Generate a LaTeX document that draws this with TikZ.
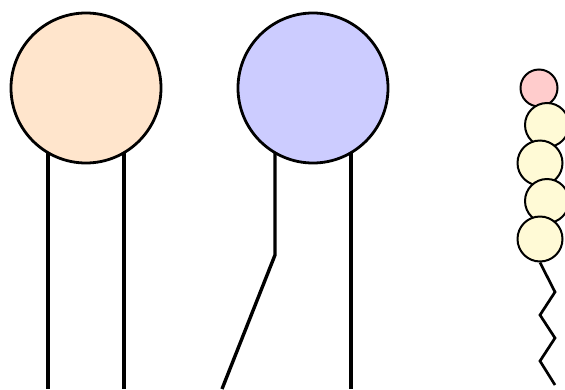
\documentclass[tikz,border=0pt]{standalone}
\definecolor{peach}{HTML}{FFE5CC}
\definecolor{lav}{HTML}{CCCCFF}
\definecolor{pinkc}{HTML}{FFCCCC}
\definecolor{yelc}{HTML}{FFFAD6}
\tikzset{
  bigball/.style={circle,draw=black,line width=2.8pt,minimum size=150pt,inner sep=0pt},
  smallball/.style={circle,draw=black,line width=2pt,inner sep=0pt},
  tail/.style={line width=3.4pt,line join=miter},
  zig/.style={line width=2.7pt,line join=miter}
}
\begin{document}
\begin{tikzpicture}[x=1pt,y=-1pt]
\useasboundingbox (0,0) rectangle (565,389);
% tails
\coordinate (t1a) at (48,389);
\coordinate (t1b) at (124,389);
\coordinate (t2k) at (275,255);
\coordinate (t2a) at (222,389);
\coordinate (t2b) at (351,389);
\draw[tail] (48,100) -- (t1a);
\draw[tail] (124,100) -- (t1b);
\draw[tail] (275,100) -- (t2k) -- (t2a);
\draw[tail] (351,100) -- (t2b);
% heads
\node[bigball,fill=peach] (h1) at (86,88) {};
\node[bigball,fill=lav] (h2) at (313,88) {};
% right chain
\coordinate (z1) at (555,292);
\coordinate (z2) at (540,315);
\coordinate (z3) at (555,338);
\coordinate (z4) at (540,361);
\coordinate (z5) at (555,385);
\node[smallball,fill=pinkc,minimum size=37pt] (p) at (539,88) {};
\node[smallball,fill=yelc,minimum size=44pt] (c1) at (547,125) {};
\node[smallball,fill=yelc,minimum size=45pt] (c2) at (540,163) {};
\node[smallball,fill=yelc,minimum size=44pt] (c3) at (547,201) {};
\node[smallball,fill=yelc,minimum size=45pt] (c4) at (540,239) {};
\draw[zig] (c4.south) -- (z1) -- (z2) -- (z3) -- (z4) -- (z5);
\end{tikzpicture}
\end{document}
